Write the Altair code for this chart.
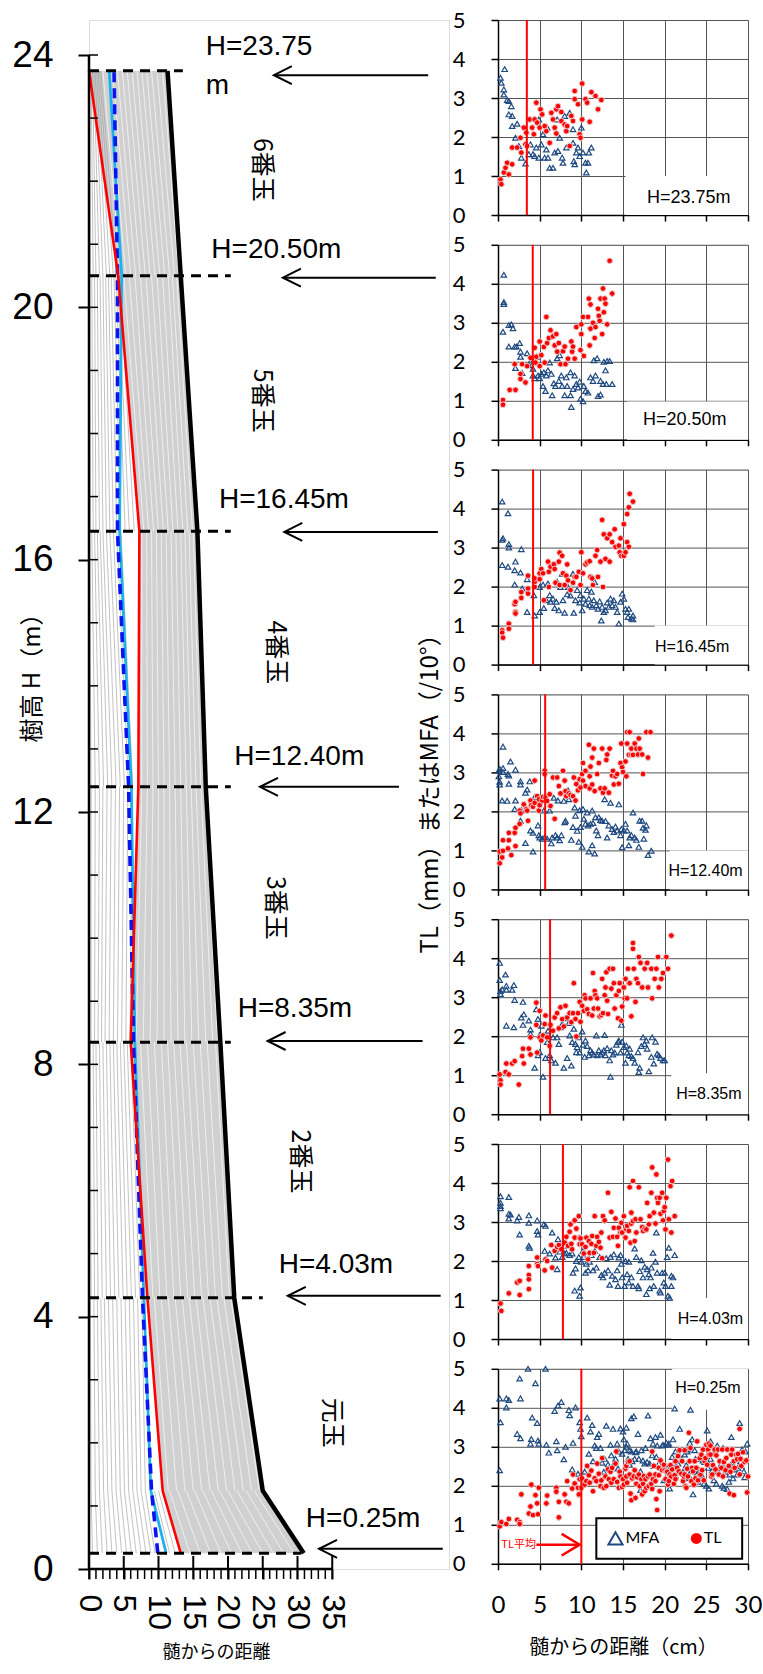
import altair as alt
import pandas as pd

CJK = "Noto Sans CJK JP"
ARIAL = "Liberation Sans"
CAL = "Lato"

# ================= LEFT PANEL : stem analysis =================
DISK_H = [0.25, 1.24, 4.3, 8.35, 12.4, 16.45, 20.5, 23.75]
OUTER_R = [30.9, 25.0, 20.9, 18.9, 16.8, 15.6, 13.2, 11.3]
RED_R = [13.2, 10.6, 8.4, 6.0, 7.1, 7.25, 4.2, 0.0]
CYAN_R = [11.1, 8.9, 7.9, 6.6, 6.1, 4.4, 4.7, 2.9]
BLUE_R = [9.9, 9.0, 7.7, 6.4, 5.7, 4.1, 4.1, 3.6]

RING_BOTTOM = [
    [0.5, 1.2, 1.9, 2.6, 3.3, 4.0, 4.7, 5.4, 6.1, 6.8, 7.5, 8.2, 8.9, 9.5, 11.6, 12.4, 14.5, 16.0, 17.5, 19.0, 20.5, 22.0, 23.5, 25.0, 26.5, 28.0, 29.5],
    [0.3, 0.9, 1.5, 2.1, 2.7, 3.3, 3.9, 4.5, 5.1, 5.7, 6.3, 6.9, 7.5, 8.1, 11.4, 12.6, 13.8, 15.0, 16.2, 17.4, 18.6, 19.8, 21.0, 22.2, 23.4, 24.5],
    [0.3, 0.8, 1.3, 1.9, 2.5, 3.1, 3.7, 4.3, 4.9, 5.5, 6.1, 6.7, 7.3, 9.2, 10.2, 11.2, 12.2, 13.2, 14.2, 15.2, 16.2, 17.2, 18.2, 19.2, 20.2],
    [0.3, 0.8, 1.3, 1.8, 2.3, 2.9, 3.5, 4.1, 4.7, 5.3, 5.9, 6.8, 7.8, 8.8, 9.8, 10.8, 11.8, 12.8, 13.8, 14.8, 15.8, 16.8, 17.8, 18.5],
    [0.3, 0.9, 1.5, 2.1, 2.7, 3.3, 3.9, 4.5, 5.1, 5.7, 6.3, 7.6, 8.4, 9.2, 10.0, 10.8, 11.6, 12.4, 13.2, 14.0, 14.7, 15.4, 16.1],
    [0.2, 0.6, 1.0, 1.5, 2.0, 2.5, 3.0, 3.5, 4.0, 4.6, 5.2, 5.8, 6.5, 7.9, 8.6, 9.3, 10.0, 10.7, 11.4, 12.1, 12.8, 13.5, 14.2, 14.9],
    [0.2, 0.6, 1.0, 1.5, 2.0, 2.5, 3.0, 3.5, 4.0, 4.6, 5.3, 6.0, 6.7, 7.4, 8.1, 8.8, 9.5, 10.2, 10.9, 11.6, 12.3, 12.9],
]
RING_TOP = [
    [0.3, 0.9, 1.5, 2.1, 2.7, 3.3, 3.9, 4.5, 5.1, 5.7, 6.3, 6.9, 7.5, 8.1, 9.4, 10.0, 11.6, 12.8, 14.0, 15.2, 16.4, 17.6, 18.8, 20.0, 21.3, 22.6, 23.8],
    [0.2, 0.7, 1.2, 1.7, 2.2, 2.8, 3.4, 4.0, 4.6, 5.2, 5.8, 6.4, 7.0, 7.6, 9.4, 10.4, 11.4, 12.4, 13.4, 14.4, 15.4, 16.4, 17.4, 18.4, 19.4, 20.4],
    [0.2, 0.6, 1.0, 1.5, 2.0, 2.5, 3.0, 3.5, 4.0, 4.5, 5.0, 5.5, 6.0, 7.4, 8.4, 9.4, 10.4, 11.3, 12.2, 13.1, 14.0, 15.0, 16.0, 17.0, 18.2],
    [0.3, 0.9, 1.5, 2.0, 2.6, 3.2, 3.8, 4.4, 5.0, 5.6, 6.2, 7.6, 8.4, 9.2, 10.0, 10.8, 11.6, 12.4, 13.2, 14.0, 14.7, 15.4, 16.1, 16.6],
    [0.1, 0.4, 0.8, 1.2, 1.6, 2.0, 2.5, 3.0, 3.5, 4.0, 4.6, 7.6, 8.3, 9.0, 9.7, 10.4, 11.1, 11.8, 12.5, 13.2, 13.8, 14.4, 15.0],
    [0.1, 0.4, 0.8, 1.2, 1.6, 2.0, 2.4, 2.8, 3.2, 3.6, 3.9, 4.1, 4.4, 5.0, 5.8, 6.6, 7.4, 8.2, 9.0, 9.8, 10.6, 11.4, 12.0, 12.6],
    [0.1, 0.3, 0.5, 0.7, 0.9, 1.1, 1.3, 1.5, 1.7, 2.0, 2.7, 3.4, 4.1, 4.8, 5.5, 6.2, 6.9, 7.6, 8.3, 9.0, 9.8, 10.6],
]

DASH_H = [23.75, 20.5, 16.45, 12.4, 8.35, 4.3, 0.25]
DASH_END = [13.5, 20.4, 20.4, 20.4, 20.4, 25.0, 30.5]

ARROW_H = [23.68, 20.47, 16.44, 12.40, 8.37, 4.33, 0.32]
ARROW_TIP = [26.6, 27.9, 28.1, 24.6, 25.7, 28.6, 33.1]
ARROW_TAIL = [48.8, 49.9, 50.2, 44.6, 48.0, 50.6, 50.9]

HLABEL_TEXT = ["H=23.75", "m", "H=20.50m", "H=16.45m", "H=12.40m", "H=8.35m", "H=4.03m", "H=0.25m"]
HLABEL_X = [16.8, 16.8, 17.6, 18.7, 20.9, 21.4, 27.3, 31.2]
HLABEL_H = [24.13, 23.51, 20.91, 16.95, 12.87, 8.87, 4.82, 0.80]

SECTION_TEXT = ["6番玉", "5番玉", "4番玉", "3番玉", "2番玉", "元玉"]
SECTION_X = [24.9, 24.9, 26.9, 26.8, 30.4, 35.0]
SECTION_H = [22.18, 18.52, 14.53, 10.48, 6.46, 2.32]

LX_TICKS = [0, 5, 10, 15, 20, 25, 30, 35]
LY_TICKS = [0, 4, 8, 12, 16, 20, 24]
LEFT_YTITLE = "樹高 H（m）"

# ================= RIGHT PANELS : TL and MFA =================
PANEL_LABEL = ["H=23.75m", "H=20.50m", "H=16.45m", "H=12.40m", "H=8.35m", "H=4.03m", "H=0.25m"]
PANEL_LABEL_X = [22.9, 22.4, 23.3, 24.9, 25.3, 25.5, 25.2]
PANEL_LABEL_Y = [0.44, 0.50, 0.45, 0.46, 0.53, 0.51, 4.52]
BOX_X0 = [15.3, 15.5, 18.8, 20.6, 20.8, 20.8, 20.9]
BOX_Y0 = [0.0, 0.0, 0.0, 0.0, 0.0, 0.0, 3.95]
BOX_Y1 = [1.0, 0.98, 1.0, 1.0, 1.05, 1.05, 5.0]
TL_MEAN = [3.46, 4.17, 4.21, 5.66, 6.25, 7.79, 10.0]

P1_TL = [(0.3,0.91),(0.4,0.79),(0.7,1.09),(0.9,1.21),(1.1,1.34),(1.3,1.04),(1.7,1.30),(1.7,1.73),(2.3,1.73),(2.7,1.98),(2.8,1.60),(3.1,2.24),(3.3,1.81),(3.4,2.11),(3.5,1.77),(3.8,2.45),(4.1,2.24),(4.3,2.07),(4.4,2.45),(4.6,2.88),(4.7,2.37),(5.0,2.24),(5.1,2.71),(5.3,2.58),(5.6,2.28),(5.8,2.15),(6.2,1.85),(6.4,2.62),(6.6,2.45),(6.8,2.24),(7.0,2.71),(7.2,2.79),(7.0,2.09),(7.6,2.64),(7.6,2.41),(8.0,2.32),(8.2,2.15),(8.3,2.28),(8.6,1.77),(8.8,2.54),(9.0,2.41),(9.2,3.18),(9.2,2.97),(9.6,2.84),(9.8,2.07),(9.9,1.98),(10.1,3.37),(10.1,2.45),(10.5,2.97),(10.7,2.88),(11.0,2.39),(11.2,3.15),(11.7,3.05),(12.0,2.71),(12.4,2.95)]
P1_MFA = [(0.3,3.52),(0.4,3.39),(0.8,3.74),(0.7,3.22),(0.7,3.09),(1.1,2.95),(1.3,2.92),(1.3,2.58),(1.6,2.79),(1.7,2.54),(1.7,2.28),(2.3,2.34),(2.1,1.98),(2.5,1.77),(2.8,1.47),(3.3,1.32),(3.7,1.56),(3.9,1.81),(4.2,1.56),(4.4,1.51),(4.6,1.73),(4.9,1.47),(5.2,1.81),(5.4,2.07),(5.6,1.47),(5.8,1.68),(6.0,1.47),(6.2,1.21),(6.6,1.21),(6.8,1.60),(7.2,1.64),(7.4,1.98),(7.7,1.47),(7.8,1.34),(8.2,1.73),(8.6,2.62),(9.0,2.20),(9.1,1.38),(9.2,1.30),(9.4,1.60),(9.6,1.73),(9.8,1.51),(10.0,2.24),(10.2,1.60),(10.5,1.34),(10.6,1.09),(10.8,1.34),(10.9,1.60),(11.2,1.73),(9.0,1.85),(8.0,2.54),(7.1,2.45),(5.9,2.24),(4.9,2.45)]

P2_TL = [(0.6,1.02),(0.6,0.90),(1.4,1.28),(2.1,1.28),(2.0,1.94),(2.7,1.56),(2.7,1.69),(2.9,1.94),(3.3,1.47),(3.5,1.89),(3.9,2.10),(4.4,2.36),(4.5,1.98),(4.6,2.13),(5.0,2.52),(5.0,1.89),(5.2,2.17),(5.5,2.38),(5.6,1.98),(5.8,3.15),(5.9,2.48),(6.1,2.61),(6.3,2.81),(6.6,2.65),(6.8,2.42),(7.0,2.71),(7.1,2.26),(7.3,2.48),(7.5,1.94),(7.8,2.27),(8.0,2.39),(8.1,1.94),(8.4,2.08),(8.8,2.52),(8.9,2.26),(9.0,2.39),(9.2,2.08),(9.4,2.89),(9.9,2.30),(10.0,2.71),(10.0,2.96),(10.2,3.15),(10.3,2.15),(10.8,3.15),(10.9,3.62),(11.0,2.42),(11.1,3.47),(11.1,2.85),(11.4,3.00),(11.6,2.61),(11.7,2.89),(12.0,3.36),(12.1,3.18),(12.2,3.05),(12.3,3.62),(12.5,2.71),(12.6,3.88),(12.7,3.27),(12.8,3.62),(12.9,3.49),(13.1,2.96),(13.4,4.59),(13.7,3.75)]
P2_MFA = [(0.7,4.23),(0.7,3.53),(0.7,3.48),(0.6,2.77),(1.3,2.94),(1.6,2.96),(1.8,2.86),(1.3,2.39),(2.0,2.39),(2.1,1.84),(2.2,2.39),(2.6,2.48),(2.7,2.26),(2.7,2.13),(2.9,1.71),(3.5,2.22),(3.7,1.91),(3.9,2.00),(4.2,1.82),(4.2,1.65),(4.4,1.58),(4.6,2.13),(4.8,1.65),(5.0,1.58),(5.2,1.69),(5.4,1.38),(5.5,1.73),(5.7,1.25),(5.8,1.65),(6.0,1.78),(6.2,1.98),(6.4,1.69),(6.5,1.14),(6.7,1.45),(6.9,1.38),(7.1,2.09),(7.3,1.51),(7.4,2.17),(7.6,1.65),(7.7,1.38),(8.0,1.14),(8.2,1.60),(8.3,1.38),(8.7,1.14),(8.7,1.73),(8.8,0.84),(9.0,1.30),(9.2,1.65),(9.4,1.43),(9.6,1.34),(9.8,1.49),(9.9,1.05),(10.2,0.99),(10.3,1.38),(10.5,1.25),(10.8,1.21),(11.1,1.60),(11.4,1.51),(11.5,2.04),(11.7,1.65),(11.9,2.09),(12.0,1.12),(12.3,1.16),(12.3,1.51),(12.6,1.43),(12.7,2.00),(12.9,1.78),(13.0,1.43),(13.1,2.02),(13.4,2.02),(13.7,1.43)]

P3_TL = [(0.5,0.88),(0.5,0.82),(0.6,0.69),(1.3,1.05),(1.3,0.92),(2.0,1.55),(2.1,1.61),(2.1,1.35),(2.1,1.31),(2.8,1.86),(2.8,1.71),(3.6,2.28),(3.6,1.95),(3.6,1.82),(4.4,2.12),(4.4,1.99),(4.4,2.21),(5.0,2.34),(5.0,2.19),(5.2,2.45),(5.4,2.34),(5.5,1.65),(6.0,2.64),(6.1,2.38),(6.1,1.99),(6.3,2.51),(6.7,2.57),(6.8,2.45),(6.9,2.10),(7.3,2.64),(7.4,2.04),(7.4,2.87),(7.7,2.79),(7.8,2.34),(8.0,2.04),(8.2,2.28),(8.3,2.57),(8.4,2.16),(8.7,1.91),(9.0,2.10),(9.2,2.25),(9.4,2.25),(9.7,2.38),(9.9,2.04),(10.0,2.88),(10.2,2.34),(10.5,2.57),(10.7,2.62),(11.0,2.65),(11.1,2.25),(11.3,2.21),(11.4,2.04),(11.7,2.79),(11.9,2.94),(12.0,2.25),(12.3,2.64),(12.5,3.71),(12.6,1.99),(12.7,3.34),(12.9,2.71),(13.1,3.24),(13.4,3.34),(13.4,2.64),(13.7,3.14),(14.0,3.47),(14.1,3.02),(14.5,3.05),(14.6,2.88),(14.7,3.24),(14.8,2.79),(15.1,3.60),(15.1,2.79),(15.3,2.88),(15.5,3.86),(15.5,3.14),(15.7,4.03),(15.7,3.02),(15.8,4.38),(16.2,4.18)]
P3_MFA = [(0.5,4.18),(0.5,3.20),(0.6,3.24),(0.5,2.55),(1.2,3.88),(1.3,3.09),(1.3,3.00),(1.2,2.51),(2.0,2.42),(2.0,2.05),(2.1,2.64),(2.8,2.96),(2.7,2.36),(2.9,1.95),(3.5,2.19),(3.5,1.35),(4.3,1.78),(4.4,1.26),(5.0,1.99),(5.0,1.35),(5.4,2.05),(5.5,1.45),(5.8,1.65),(6.0,2.08),(6.2,1.78),(6.3,1.61),(6.6,1.69),(6.8,1.45),(7.0,1.61),(7.1,2.12),(7.3,1.39),(7.5,1.99),(7.7,2.33),(7.8,1.65),(8.0,1.33),(8.3,1.80),(8.4,1.99),(8.7,1.77),(9.0,2.33),(9.1,1.33),(9.3,1.65),(9.5,1.91),(9.8,1.59),(9.9,1.78),(10.1,1.39),(10.3,1.69),(10.5,1.56),(10.7,1.91),(10.9,1.69),(11.0,1.52),(11.2,1.87),(11.3,1.48),(11.5,1.65),(11.6,2.12),(11.8,1.52),(12.0,1.43),(12.2,1.62),(12.4,1.13),(12.5,1.48),(12.7,1.35),(12.9,1.39),(13.1,1.59),(13.3,1.48),(13.5,1.69),(13.7,1.52),(13.9,1.65),(14.1,1.48),(14.3,1.35),(14.5,1.05),(14.7,1.61),(14.9,1.82),(15.1,1.69),(15.3,1.43),(15.5,1.35),(15.6,1.22),(15.7,1.43),(16.0,1.18),(16.2,1.26),(16.2,1.16)]

P4_TL = [(0.2,0.67),(0.2,0.97),(0.5,0.82),(0.6,0.99),(0.6,1.26),(1.2,1.05),(1.3,1.26),(1.3,1.45),(1.6,0.88),(2.0,1.45),(2.1,1.58),(2.1,1.11),(2.6,1.68),(2.6,2.02),(2.7,1.95),(3.1,2.18),(3.4,2.06),(3.5,2.02),(3.6,1.76),(3.9,2.28),(4.0,2.16),(4.2,2.12),(4.4,2.79),(4.4,2.22),(4.7,2.39),(4.9,2.31),(4.9,2.02),(5.0,2.16),(5.3,2.28),(5.4,2.37),(5.6,3.04),(5.6,2.96),(5.7,2.35),(5.9,2.27),(6.2,2.44),(6.3,2.14),(6.6,2.87),(6.8,1.81),(7.1,2.87),(7.3,2.65),(7.5,2.46),(7.8,3.04),(8.0,2.79),(8.1,2.52),(8.2,2.39),(8.5,2.46),(8.7,2.42),(9.0,2.39),(9.1,2.87),(9.3,2.28),(9.4,2.70),(9.6,2.54),(9.8,2.82),(9.9,2.61),(10.1,2.96),(10.2,3.24),(10.2,2.79),(10.5,3.04),(10.5,2.65),(10.9,3.71),(11.0,2.90),(11.0,2.59),(11.1,3.15),(11.3,3.38),(11.3,2.69),(11.5,3.61),(11.6,2.52),(11.9,2.96),(12.1,3.24),(12.3,2.59),(12.5,3.61),(12.6,2.48),(12.8,2.59),(13.0,3.32),(13.1,3.46),(13.3,2.48),(13.4,3.61),(13.7,2.92),(13.8,3.04),(13.9,2.69),(14.1,2.90),(14.3,2.96),(14.5,2.71),(14.7,3.24),(14.8,3.74),(14.9,3.13),(15.0,3.01),(15.3,3.28),(15.4,2.90),(15.5,4.03),(15.5,3.74),(15.7,3.45),(15.8,4.03),(16.0,3.45),(16.0,3.61),(16.2,3.45),(16.4,3.74),(16.6,3.61),(16.8,3.46),(16.9,3.87),(17.0,3.61),(17.3,3.46),(17.4,2.96),(17.8,4.03),(18.0,3.38),(18.3,4.03)]
P4_MFA = [(0.1,2.90),(0.1,3.04),(0.2,3.09),(0.2,2.76),(0.2,2.69),(0.6,3.66),(0.6,3.11),(0.6,3.01),(0.5,2.28),(1.1,2.27),(1.2,2.96),(1.3,2.92),(1.3,2.71),(1.5,3.28),(2.0,2.06),(2.1,3.07),(2.1,2.28),(2.7,2.77),(2.7,2.69),(2.8,2.03),(2.7,1.76),(3.3,2.48),(3.3,1.19),(3.5,2.56),(3.8,2.77),(3.9,1.51),(4.2,1.45),(4.2,0.97),(4.4,2.37),(4.8,1.64),(4.9,1.39),(5.0,2.27),(5.0,1.33),(5.3,1.30),(5.5,2.02),(5.6,1.34),(5.9,1.30),(6.2,2.02),(6.4,1.18),(6.5,1.33),(6.7,2.35),(6.9,1.39),(7.1,1.33),(7.2,2.28),(7.4,1.26),(7.6,1.39),(7.9,2.27),(8.0,1.72),(8.1,1.76),(8.4,2.54),(8.5,2.31),(8.8,1.27),(9.0,1.60),(9.2,2.10),(9.3,1.89),(9.5,1.50),(9.7,1.22),(9.8,2.03),(9.9,1.60),(10.1,1.09),(10.2,2.06),(10.3,1.81),(10.5,1.68),(10.7,1.97),(10.8,1.64),(10.9,0.97),(11.1,1.68),(11.3,2.02),(11.3,1.13),(11.4,1.70),(11.6,0.92),(11.7,1.85),(11.8,1.51),(12.0,1.39),(12.1,1.85),(12.3,1.78),(12.5,1.76),(12.8,2.31),(12.9,1.75),(13.1,1.33),(13.3,1.64),(13.5,2.22),(13.7,1.55),(13.9,1.47),(14.1,1.61),(14.3,1.51),(14.5,2.18),(14.7,1.39),(14.8,1.55),(14.9,1.08),(15.1,1.51),(15.3,1.68),(15.5,1.51),(15.7,1.13),(15.8,1.33),(16.0,1.39),(16.2,1.97),(16.4,1.33),(16.6,1.27),(16.9,1.09),(17.0,1.76),(17.3,1.76),(17.4,1.58),(17.5,1.30),(17.7,1.53),(17.8,1.64),(18.0,0.88),(18.4,0.99)]

P5_TL = [(0.2,1.02),(0.3,0.87),(0.3,0.76),(0.9,1.08),(1.0,1.30),(1.3,1.02),(1.7,1.30),(2.0,1.36),(2.5,0.76),(2.9,1.49),(3.0,1.68),(3.1,1.30),(3.7,1.68),(3.9,1.53),(3.9,1.97),(4.6,2.29),(4.6,2.86),(4.7,1.58),(5.0,1.97),(5.0,2.65),(5.2,1.89),(5.4,2.02),(5.6,2.31),(5.7,2.53),(5.9,1.97),(6.2,1.75),(6.3,2.29),(6.6,2.14),(6.8,2.48),(7.1,2.59),(7.3,2.20),(7.5,2.74),(7.7,2.44),(7.9,2.25),(8.1,2.78),(8.3,2.48),(8.6,2.59),(8.8,2.36),(9.0,2.59),(9.1,3.36),(9.3,2.44),(9.4,1.99),(9.6,2.59),(9.8,2.88),(9.9,2.37),(10.1,2.78),(10.3,2.65),(10.4,3.05),(10.5,2.97),(10.7,2.69),(10.9,2.57),(11.1,2.97),(11.3,2.53),(11.4,3.62),(11.5,2.71),(11.6,3.16),(11.7,3.05),(11.9,2.97),(12.0,2.71),(12.2,2.51),(12.4,2.54),(12.5,3.47),(12.6,2.59),(12.8,3.05),(12.9,3.25),(13.0,3.64),(13.1,2.91),(13.2,2.57),(13.4,3.73),(13.6,3.22),(13.8,3.73),(13.9,3.36),(14.0,2.71),(14.2,3.05),(14.4,2.46),(14.5,3.16),(14.6,3.36),(14.8,2.40),(14.9,2.76),(15.1,3.25),(15.2,2.97),(15.3,3.47),(15.5,2.97),(15.6,3.73),(15.7,3.36),(15.8,3.36),(16.0,2.51),(16.2,4.24),(16.2,4.39),(16.3,3.73),(16.5,2.88),(16.6,3.47),(16.8,3.36),(16.9,4.03),(17.1,3.88),(17.3,3.25),(17.6,3.73),(17.9,3.88),(18.0,3.25),(18.4,3.73),(18.5,2.97),(18.8,3.47),(19.0,3.73),(19.2,4.03),(19.3,3.25),(19.6,3.47),(19.8,3.62),(20.2,4.03),(20.4,3.73),(20.8,4.58)]
P5_MFA = [(0.2,3.88),(0.2,3.44),(0.3,3.16),(0.3,3.08),(0.5,3.20),(0.9,3.58),(1.0,3.29),(1.0,3.19),(1.7,3.19),(1.9,3.31),(2.0,2.93),(1.0,2.27),(1.9,2.23),(2.8,2.48),(3.0,2.29),(3.0,2.88),(3.1,2.56),(3.7,2.40),(3.9,2.06),(3.9,2.17),(4.4,1.19),(4.6,2.69),(4.8,2.44),(4.8,1.51),(5.0,2.03),(5.0,1.59),(5.2,2.27),(5.4,0.96),(5.7,1.44),(5.9,1.85),(6.0,2.14),(6.2,1.51),(6.4,1.38),(6.6,1.97),(6.9,1.32),(7.1,1.97),(7.3,1.80),(7.5,2.23),(7.7,2.31),(7.9,1.19),(8.1,2.46),(8.3,1.44),(8.5,2.34),(8.6,2.02),(8.8,1.25),(8.9,1.85),(9.1,2.19),(9.3,1.80),(9.4,1.59),(9.5,1.72),(9.7,1.97),(9.8,1.58),(10.1,2.12),(10.2,1.78),(10.4,1.47),(10.5,1.89),(10.7,1.75),(10.9,1.51),(11.1,1.64),(11.3,1.58),(11.5,1.53),(11.8,2.02),(11.9,1.51),(12.1,1.64),(12.3,1.53),(12.5,1.58),(12.7,1.64),(12.8,2.03),(12.9,1.51),(13.1,1.69),(13.4,1.38),(13.5,0.96),(13.6,1.64),(13.8,1.53),(14.0,1.58),(14.2,1.78),(14.4,1.85),(14.5,1.89),(14.7,1.58),(14.8,2.29),(14.9,1.86),(15.1,1.72),(15.3,1.32),(15.4,1.76),(15.5,1.58),(15.7,1.51),(15.8,1.68),(16.0,1.49),(16.2,1.44),(16.4,1.32),(16.8,1.59),(16.9,1.08),(17.0,1.19),(17.2,1.75),(17.4,1.97),(17.6,1.80),(17.8,1.89),(17.9,1.68),(18.1,1.10),(18.4,1.47),(18.5,1.97),(18.7,1.30),(18.9,1.86),(19.1,1.55),(19.3,1.51),(19.5,1.44),(19.8,1.38),(20.0,1.38)]

P6_TL = [(0.3,0.91),(0.4,0.72),(1.3,1.17),(2.3,1.45),(2.6,1.49),(2.6,1.13),(3.7,1.87),(3.7,1.64),(3.7,1.53),(3.7,1.28),(4.7,2.09),(4.7,1.92),(4.8,1.87),(5.6,1.76),(5.7,2.04),(5.9,2.00),(6.4,2.41),(6.5,1.83),(6.8,2.26),(7.1,2.36),(7.3,2.41),(7.6,2.30),(8.0,2.47),(8.2,2.62),(8.4,2.39),(8.6,2.75),(8.7,2.94),(8.8,2.44),(8.9,2.30),(9.2,3.04),(9.2,2.60),(9.4,2.83),(9.7,3.15),(9.8,2.60),(9.8,2.43),(9.9,2.58),(10.1,2.43),(10.3,2.19),(10.5,2.36),(10.6,2.60),(10.8,2.04),(10.9,2.51),(11.0,2.21),(11.2,2.44),(11.3,2.64),(11.5,2.21),(11.6,3.15),(11.8,2.39),(11.9,2.62),(12.1,2.49),(12.3,2.34),(12.4,2.73),(12.5,2.07),(12.6,3.15),(12.8,3.04),(13.2,3.75),(13.4,2.60),(13.6,3.26),(13.8,2.62),(13.9,2.85),(14.1,3.09),(14.3,2.62),(14.4,2.39),(14.5,2.85),(14.7,2.73),(14.8,2.98),(14.9,2.73),(15.1,3.15),(15.3,2.60),(15.4,2.81),(15.5,2.90),(15.7,2.77),(15.8,3.89),(15.9,2.47),(16.0,2.96),(16.0,3.24),(16.2,3.02),(16.2,4.05),(16.4,2.51),(16.5,3.07),(16.6,2.73),(16.9,3.89),(17.1,3.07),(17.3,2.87),(17.4,2.77),(17.6,2.83),(17.8,2.81),(17.9,3.49),(18.1,2.94),(18.2,3.15),(18.4,3.75),(18.5,4.40),(18.7,3.24),(18.9,2.96),(19.0,4.22),(19.1,3.62),(19.2,3.49),(19.4,3.62),(19.5,3.21),(19.7,3.75),(19.8,3.04),(19.9,3.28),(20.0,3.38),(20.1,2.81),(20.2,3.62),(20.4,4.60),(20.5,3.07),(20.7,3.92),(20.8,2.73),(20.9,4.05),(21.2,3.15)]
P6_MFA = [(0.3,3.66),(0.3,3.49),(0.3,3.41),(0.3,3.35),(1.3,3.64),(1.3,3.21),(1.3,3.09),(1.5,3.19),(2.3,3.04),(2.5,3.13),(2.6,2.68),(3.7,3.17),(3.7,2.98),(3.7,2.39),(3.8,2.34),(4.7,3.04),(4.7,2.77),(4.8,2.68),(5.5,2.94),(5.7,2.90),(5.6,2.26),(6.2,2.19),(6.5,2.73),(6.9,2.09),(7.1,1.79),(7.2,2.56),(7.4,2.24),(7.7,2.10),(8.0,2.19),(8.2,2.21),(8.4,2.39),(8.6,2.15),(8.9,2.19),(9.0,1.70),(9.2,1.24),(9.3,1.81),(9.4,2.00),(9.7,2.10),(9.8,1.11),(9.9,1.32),(10.0,1.98),(10.2,2.26),(10.3,2.10),(10.5,1.70),(10.6,1.93),(10.8,1.76),(11.0,1.98),(11.2,2.15),(11.4,1.76),(11.6,2.26),(11.8,1.83),(12.0,2.43),(12.2,2.10),(12.4,1.64),(12.6,1.58),(12.8,1.70),(13.0,2.07),(13.2,1.76),(13.4,1.39),(13.5,2.10),(13.7,1.62),(13.9,2.17),(14.1,1.53),(14.3,1.76),(14.4,1.36),(14.5,2.09),(14.7,2.15),(14.8,1.93),(14.9,1.58),(15.2,1.36),(15.3,2.00),(15.5,1.66),(15.7,1.98),(15.7,1.45),(16.0,1.58),(16.2,1.36),(16.4,2.32),(16.6,2.10),(16.8,1.36),(16.9,1.30),(17.0,1.74),(17.2,2.02),(17.4,1.58),(17.6,1.85),(17.8,1.15),(17.9,1.79),(18.1,1.66),(18.2,1.30),(18.3,1.58),(18.4,1.83),(18.6,2.21),(18.7,1.36),(18.9,1.98),(19.0,2.73),(19.1,1.70),(19.4,1.24),(19.5,1.19),(19.7,1.70),(19.9,1.45),(20.0,1.70),(20.1,1.36),(20.3,2.10),(20.4,1.11),(20.5,2.34),(20.6,1.06),(20.8,1.62),(20.8,1.36),(21.0,1.58),(21.2,2.15)]

P7_TL = [(0.2,0.96),(0.4,1.07),(1.0,1.02),(1.3,1.15),(2.3,1.13),(2.6,1.07),(2.6,1.02),(2.8,1.78),(3.7,1.29),(3.9,1.47),(4.0,2.03),(4.2,1.25),(4.5,1.76),(4.7,1.55),(4.8,1.27),(4.9,1.95),(5.8,1.55),(5.9,1.75),(7.0,1.95),(7.0,1.85),(7.3,1.19),(7.3,1.59),(8.0,1.78),(8.2,1.59),(8.3,2.12),(8.5,1.55),(8.9,1.93),(9.0,2.29),(9.2,2.06),(9.6,1.95),(9.7,1.78),(9.8,2.17),(10.0,1.95),(10.1,2.19),(10.4,2.03),(10.6,2.12),(10.7,2.51),(10.9,2.27),(11.0,2.08),(11.2,2.39),(11.4,1.86),(11.6,2.19),(11.8,2.12),(11.9,2.57),(12.1,2.31),(12.3,1.99),(12.4,2.14),(12.5,2.71),(12.7,1.95),(12.9,2.24),(13.0,1.99),(13.2,2.42),(13.3,2.17),(13.5,2.36),(13.6,2.08),(13.7,2.46),(13.9,2.17),(14.1,2.57),(14.2,2.88),(14.3,2.10),(14.5,1.95),(14.6,2.36),(14.7,2.24),(14.9,1.97),(15.0,2.17),(15.1,2.03),(15.3,2.44),(15.4,2.24),(15.4,2.51),(15.5,2.08),(15.6,2.61),(15.8,2.29),(15.8,2.63),(15.9,1.80),(16.0,1.63),(16.1,2.19),(16.3,2.24),(16.4,2.40),(16.5,1.69),(16.6,2.05),(16.7,2.22),(16.9,2.29),(17.0,1.99),(17.2,2.17),(17.3,1.78),(17.4,2.05),(17.5,2.25),(17.6,1.86),(17.7,2.17),(17.8,1.95),(18.0,2.24),(18.1,1.99),(18.2,2.29),(18.4,2.05),(18.5,1.92),(18.5,2.88),(18.6,2.17),(18.7,2.51),(18.9,2.29),(18.9,2.12),(19.0,1.66),(19.1,1.38),(19.3,2.27),(19.3,2.46),(19.4,1.86),(19.5,2.65),(19.7,2.40),(19.9,2.54),(20.0,2.40),(20.1,2.17),(20.2,2.37),(20.3,2.36),(20.4,2.03),(20.5,2.12),(20.6,2.29),(20.7,2.53),(20.8,2.24),(20.9,2.42),(21.1,2.05),(21.2,2.27),(21.3,2.17),(21.3,2.63),(21.5,2.46),(21.6,2.76),(21.7,2.37),(21.8,2.91),(22.0,2.31),(22.1,2.63),(22.2,2.12),(22.3,2.24),(22.4,2.91),(22.4,2.29),(22.5,1.99),(22.6,1.95),(22.7,2.44),(22.8,2.24),(22.9,3.36),(23.0,2.63),(23.1,2.97),(23.2,2.12),(23.3,2.46),(23.4,2.37),(23.5,2.03),(23.6,2.63),(23.7,2.19),(23.8,2.46),(23.9,3.14),(24.0,2.14),(24.2,2.71),(24.3,2.29),(24.4,2.80),(24.5,2.40),(24.6,2.93),(24.7,2.14),(24.8,2.63),(24.9,2.71),(25.0,3.05),(25.1,2.54),(25.2,2.93),(25.3,2.80),(25.3,3.08),(25.5,3.03),(25.5,2.80),(25.6,2.24),(25.7,2.29),(25.8,2.53),(26.0,2.93),(26.1,2.42),(26.2,2.78),(26.4,2.93),(26.5,2.29),(26.6,2.63),(26.8,2.46),(26.9,2.93),(27.0,2.24),(27.1,2.61),(27.3,2.40),(27.4,2.71),(27.5,2.93),(27.7,2.51),(27.8,1.80),(27.9,2.36),(28.0,2.80),(28.1,2.93),(28.3,2.63),(28.3,1.76),(28.4,2.46),(28.6,2.80),(28.7,2.68),(28.8,2.82),(29.0,2.29),(29.0,3.46),(29.1,2.69),(29.2,2.51),(29.4,2.86),(29.6,2.61),(29.8,2.65),(29.9,1.83),(30.0,2.24)]
P7_MFA = [(0.2,2.40),(0.3,3.63),(0.2,4.24),(1.0,4.24),(1.0,4.01),(1.3,4.20),(2.3,3.33),(2.6,4.75),(2.7,3.22),(2.7,4.24),(3.6,5.00),(3.9,3.08),(4.0,3.20),(4.1,3.75),(4.5,4.63),(4.7,3.61),(4.8,3.16),(4.9,3.08),(5.7,5.00),(5.8,3.05),(6.1,2.85),(6.8,3.92),(7.0,3.14),(7.1,2.91),(7.2,4.06),(7.6,4.15),(7.9,2.68),(8.1,3.00),(8.5,3.94),(8.6,3.81),(8.9,2.42),(9.0,3.10),(9.3,4.01),(9.6,2.31),(9.8,3.63),(9.9,3.46),(10.0,3.27),(10.4,2.36),(10.7,3.75),(10.9,2.82),(11.1,3.39),(11.3,3.56),(11.4,2.63),(11.6,3.03),(11.8,2.97),(11.9,3.25),(12.1,3.33),(12.3,2.97),(12.5,2.59),(12.7,2.36),(12.8,2.69),(13.0,3.54),(13.2,2.55),(13.3,2.44),(13.5,3.05),(13.6,2.78),(13.8,3.46),(14.0,2.59),(14.1,2.69),(14.3,3.08),(14.4,2.44),(14.5,2.88),(14.7,3.47),(14.9,2.82),(15.0,3.39),(15.1,3.19),(15.2,2.91),(15.4,3.00),(15.4,3.49),(15.5,3.08),(15.6,2.69),(15.8,2.91),(15.8,2.54),(16.0,3.73),(16.0,2.88),(16.1,2.63),(16.3,3.78),(16.4,2.69),(16.5,2.86),(16.6,2.88),(16.8,3.33),(16.9,2.69),(17.1,1.89),(17.1,2.37),(17.2,2.91),(17.4,2.65),(17.6,2.57),(17.7,2.97),(17.9,2.61),(18.0,3.80),(18.2,2.57),(18.3,3.22),(18.5,2.78),(18.6,3.08),(18.7,2.51),(18.9,3.25),(19.0,2.74),(19.1,3.03),(19.3,2.57),(19.5,3.31),(19.7,3.03),(19.8,3.05),(19.9,2.14),(20.0,2.44),(20.2,3.10),(20.3,2.46),(20.4,3.05),(20.5,3.08),(20.6,1.93),(20.7,2.46),(20.9,2.74),(21.0,3.19),(21.1,2.57),(21.2,3.98),(21.3,2.26),(21.3,2.88),(21.5,2.46),(21.6,2.57),(21.7,2.80),(21.8,3.46),(22.0,2.65),(22.2,2.36),(22.4,2.80),(22.4,2.19),(22.6,2.53),(22.7,2.88),(22.8,2.93),(23.0,2.22),(23.0,3.10),(23.1,3.95),(23.2,2.39),(23.3,3.19),(23.4,1.78),(23.5,2.37),(23.6,2.91),(23.7,2.69),(23.8,2.29),(24.0,2.10),(24.2,2.39),(24.3,2.69),(24.4,2.29),(24.5,2.19),(24.6,2.65),(24.7,2.05),(24.8,2.61),(25.0,2.00),(25.1,3.42),(25.1,2.63),(25.2,2.46),(25.3,1.93),(25.5,2.69),(25.5,3.14),(25.7,2.39),(25.9,2.14),(26.1,2.88),(26.2,2.05),(26.3,3.03),(26.4,2.37),(26.6,2.46),(26.8,2.57),(26.9,2.00),(27.0,2.97),(27.1,1.95),(27.3,2.36),(27.4,2.44),(27.5,1.92),(27.7,2.10),(27.8,2.29),(27.9,2.53),(28.0,3.25),(28.1,2.46),(28.2,2.19),(28.3,2.51),(28.4,2.42),(28.6,2.69),(28.7,2.29),(28.8,2.46),(29.0,2.74),(29.0,3.61),(29.1,2.63),(29.2,2.51),(29.3,2.93),(29.5,2.37),(29.6,2.22),(29.7,2.88),(29.9,3.08)]

PANEL_TL = [P1_TL, P2_TL, P3_TL, P4_TL, P5_TL, P6_TL, P7_TL]
PANEL_MFA = [P1_MFA, P2_MFA, P3_MFA, P4_MFA, P5_MFA, P6_MFA, P7_MFA]

LEGEND_BOX = (11.8, 29.3, 0.13, 1.17)
LEGEND_ITEMS = ["MFA", "TL"]
LEGEND_SYM_X = [14.1, 23.8]
LEGEND_TXT_X = [15.3, 24.7]
LEGEND_Y = 0.65
TL_AVG_TEXT = "TL平均"
TL_AVG_ARROW = (4.6, 9.8, 0.49)
RIGHT_YTITLE = "TL（mm）またはMFA（/10°）"

# ================= geometry =================
W_L, H_L = 360, 1549
X_MAX_L, Y_MAX_L = 51.8, 24.555
W_R, H_R = 250, 195
SP_R = 29.8

# ---------------- left chart ----------------
XL = alt.Scale(domain=[0, X_MAX_L], nice=False, zero=False)
YL = alt.Scale(domain=[0, Y_MAX_L], nice=False, zero=False)
XAX_L = alt.Axis(values=LX_TICKS, grid=False, domain=False, ticks=True, tickSize=10, tickWidth=2,
                 tickColor="black", labelAngle=90, labelFont=ARIAL, labelFontSize=32, labelColor="black",
                 labelPadding=15, labelFlush=False, labelOverlap=False,
                 title="髄からの距離", titleFont=CJK, titleFontSize=18, titleFontWeight="normal",
                 titleColor="black", titleX=127, titleY=74)
YAX_L = alt.Axis(values=LY_TICKS, grid=False, domain=False, ticks=True, tickSize=11, tickWidth=2,
                 tickColor="black", labelFont=ARIAL, labelFontSize=37, labelColor="black",
                 labelPadding=25, labelFlush=False, labelOverlap=False)


def lx(f):
    return alt.X(f + ":Q", scale=XL, axis=XAX_L)


def ly(f):
    return alt.Y(f + ":Q", scale=YL, axis=YAX_L, title=None)


area_df = pd.DataFrame({"h": DISK_H, "xl": RED_R, "xr": OUTER_R})
ring_rows = []
for i in range(len(DISK_H) - 1):
    for rb, rt in zip(RING_BOTTOM[i], RING_TOP[i]):
        zone = "outer" if rb >= RED_R[i] else "inner"
        ring_rows.append({"x": rb, "h": DISK_H[i], "x2": rt, "h2": DISK_H[i + 1], "zone": zone})
ring_df = pd.DataFrame(ring_rows)
ring_in = ring_df[ring_df.zone == "inner"]
ring_out = ring_df[ring_df.zone == "outer"]


def line_df(vals):
    return pd.DataFrame({"x": vals, "h": DISK_H})


dash_df = pd.DataFrame({"x": [0.0] * len(DASH_H), "x2": DASH_END, "h": DASH_H})
arrow_df = pd.DataFrame({"x": ARROW_TIP, "x2": ARROW_TAIL, "h": ARROW_H})
hl_df = pd.DataFrame({"x": HLABEL_X, "h": HLABEL_H, "t": HLABEL_TEXT})
sec_df = pd.DataFrame({"x": SECTION_X, "h": SECTION_H, "t": SECTION_TEXT})
yminor_df = pd.DataFrame({"h": list(range(0, 25))})
xminor_df = pd.DataFrame({"x": list(range(0, 36))})
xmajor_df = pd.DataFrame({"x": LX_TICKS})
yaxis_df = pd.DataFrame({"x": [0.0], "h": [0.0], "h2": [24.0]})
xaxis_df = pd.DataFrame({"x": [0.0], "x2": [35.0], "h": [0.0]})
ytitle_df = pd.DataFrame({"t": [LEFT_YTITLE]})

left_layers = [
    alt.Chart(area_df).mark_area(orient="horizontal", color="#d0d0d0", opacity=1).encode(
        x=lx("xl"), x2="xr", y=ly("h")),
    alt.Chart(ring_out).mark_rule(color="#f6f6f6", strokeWidth=0.8).encode(
        x=lx("x"), x2="x2", y=ly("h"), y2="h2"),
    alt.Chart(ring_in).mark_rule(color="#9a9a9a", strokeWidth=0.6).encode(
        x=lx("x"), x2="x2", y=ly("h"), y2="h2"),
    alt.Chart(line_df(CYAN_R)).mark_line(color="#1cb0ec", strokeWidth=2.8).encode(
        x=lx("x"), y=ly("h"), order=alt.Order("h:Q")),
    alt.Chart(line_df(BLUE_R)).mark_line(color="#0a14f0", strokeWidth=3.6, strokeDash=[10, 6]).encode(
        x=lx("x"), y=ly("h"), order=alt.Order("h:Q")),
    alt.Chart(line_df(RED_R)).mark_line(color="#ff0000", strokeWidth=2.6).encode(
        x=lx("x"), y=ly("h"), order=alt.Order("h:Q")),
    alt.Chart(line_df(OUTER_R)).mark_line(color="black", strokeWidth=4.5).encode(
        x=lx("x"), y=ly("h"), order=alt.Order("h:Q")),
    alt.Chart(dash_df).mark_rule(color="black", strokeWidth=3, strokeDash=[10, 7]).encode(
        x=lx("x"), x2="x2", y=ly("h")),
    alt.Chart(yaxis_df).mark_rule(color="black", strokeWidth=2.5).encode(
        x=lx("x"), y=ly("h"), y2="h2"),
    alt.Chart(xaxis_df).mark_rule(color="black", strokeWidth=2.5).encode(
        x=lx("x"), x2="x2", y=ly("h")),
    alt.Chart(yminor_df).mark_rule(color="black", strokeWidth=1.5).encode(
        y=ly("h"), x=alt.value(0), x2=alt.value(9)),
    alt.Chart(xminor_df).mark_rule(color="black", strokeWidth=1.5).encode(
        x=lx("x"), y=alt.value(H_L), y2=alt.value(H_L + 10)),
    alt.Chart(xmajor_df).mark_rule(color="black", strokeWidth=2).encode(
        x=lx("x"), y=alt.value(H_L - 13), y2=alt.value(H_L)),
    alt.Chart(arrow_df).mark_rule(color="black", strokeWidth=2).encode(
        x=lx("x"), x2="x2", y=ly("h")),
    alt.Chart(arrow_df).mark_point(shape="M1,-1L-1,0L1,1", filled=False, color="black",
                                   strokeWidth=2, size=324, opacity=1, xOffset=9).encode(
        x=lx("x"), y=ly("h")),
    alt.Chart(hl_df).mark_text(font=ARIAL, fontSize=28, align="left", baseline="middle",
                               color="black").encode(x=lx("x"), y=ly("h"), text="t:N"),
    alt.Chart(sec_df).mark_text(font=CJK, fontSize=25, angle=90, align="center", baseline="middle",
                                color="black").encode(x=lx("x"), y=ly("h"), text="t:N"),
    alt.Chart(ytitle_df).mark_text(font=CJK, fontSize=24, angle=270, align="center", baseline="middle",
                                   color="black").encode(x=alt.value(-56), y=alt.value(652), text="t:N"),
]
left = alt.layer(*left_layers).properties(width=W_L, height=H_L)

# ---------------- right panels ----------------
XR = alt.Scale(domain=[0, 30], nice=False, zero=False)
YR = alt.Scale(domain=[0, 5], nice=False, zero=False)
GRID = "#555555"


def make_panel(i):
    last = i == 6
    xkw = dict(values=[0, 5, 10, 15, 20, 25, 30], grid=True, gridColor=GRID, gridWidth=1,
               domainColor="black", domainWidth=1.5, tickColor="black", tickWidth=1.5, tickSize=6,
               labels=last, labelFlush=False, labelOverlap=False)
    if last:
        xkw.update(labelFont=CAL, labelFontSize=24, labelColor="black", labelPadding=24,
                   title="髄からの距離（cm）", titleFont=CJK, titleFontSize=20,
                   titleFontWeight="normal", titleColor="black", titleY=74)
    ykw = dict(values=[0, 1, 2, 3, 4, 5], grid=True, gridColor=GRID, gridWidth=1,
               domainColor="black", domainWidth=1.5, tickColor="black", tickWidth=1.5, tickSize=7,
               labelFont=CAL, labelFontSize=22, labelColor="black", labelPadding=26,
               labelFlush=False, labelOverlap=False)
    if i == 3:
        ykw.update(title=RIGHT_YTITLE, titleFont=CJK, titleFontSize=24,
                   titleFontWeight="normal", titleColor="black", titleAngle=270, titleX=-68,
                   titleY=93, titleBaseline="middle", titleAlign="center")
    XAX = alt.Axis(**xkw)
    YAX = alt.Axis(**ykw)

    def px(f):
        if last:
            return alt.X(f + ":Q", scale=XR, axis=XAX)
        return alt.X(f + ":Q", scale=XR, axis=XAX, title=None)

    def py(f):
        if i == 3:
            return alt.Y(f + ":Q", scale=YR, axis=YAX)
        return alt.Y(f + ":Q", scale=YR, axis=YAX, title=None)

    tl = pd.DataFrame(PANEL_TL[i], columns=["x", "v"])
    mfa = pd.DataFrame(PANEL_MFA[i], columns=["x", "v"])
    box = pd.DataFrame({"x": [BOX_X0[i]], "x2": [30.0], "v": [BOX_Y0[i]], "v2": [BOX_Y1[i]]})
    mean = pd.DataFrame({"x": [TL_MEAN[i]], "v": [0.0], "v2": [5.0]})
    lab = pd.DataFrame({"x": [PANEL_LABEL_X[i]], "v": [PANEL_LABEL_Y[i]], "t": [PANEL_LABEL[i]]})
    lab_size = 18 if i < 2 else 16

    layers = [
        alt.Chart(box).mark_rect(color="white").encode(x=px("x"), x2="x2", y=py("v"), y2="v2"),
        alt.Chart(mfa).mark_point(shape="triangle-up", filled=False, color="#1f4a80",
                                  strokeWidth=1.2, size=30, opacity=1).encode(x=px("x"), y=py("v")),
        alt.Chart(tl).mark_point(shape="circle", filled=True, fill="#ff0000", stroke="#e8cccc",
                                 strokeWidth=1, size=32, opacity=1).encode(x=px("x"), y=py("v")),
        alt.Chart(mean).mark_rule(color="#ff0000", strokeWidth=2).encode(x=px("x"), y=py("v"), y2="v2"),
        alt.Chart(lab).mark_text(font=ARIAL, fontSize=lab_size, align="center", baseline="middle",
                                 color="black").encode(x=px("x"), y=py("v"), text="t:N"),
    ]
    if last:
        lb = pd.DataFrame({"x": [LEGEND_BOX[0]], "x2": [LEGEND_BOX[1]],
                           "v": [LEGEND_BOX[2]], "v2": [LEGEND_BOX[3]]})
        sym_m = pd.DataFrame({"x": [LEGEND_SYM_X[0]], "v": [LEGEND_Y]})
        sym_t = pd.DataFrame({"x": [LEGEND_SYM_X[1]], "v": [LEGEND_Y]})
        ltxt = pd.DataFrame({"x": LEGEND_TXT_X, "v": [LEGEND_Y, LEGEND_Y], "t": LEGEND_ITEMS})
        avg_t = pd.DataFrame({"x": [0.4], "v": [TL_AVG_ARROW[2]], "t": [TL_AVG_TEXT]})
        avg_a = pd.DataFrame({"x": [TL_AVG_ARROW[0]], "x2": [TL_AVG_ARROW[1]], "v": [TL_AVG_ARROW[2]]})
        avg_h = pd.DataFrame({"x": [TL_AVG_ARROW[1]], "v": [TL_AVG_ARROW[2]]})
        layers += [
            alt.Chart(lb).mark_rect(fill="white", stroke="black", strokeWidth=2).encode(
                x=px("x"), x2="x2", y=py("v"), y2="v2"),
            alt.Chart(sym_m).mark_point(shape="triangle-up", filled=False, color="#1f4a80",
                                        strokeWidth=2, size=200, opacity=1).encode(x=px("x"), y=py("v")),
            alt.Chart(sym_t).mark_point(shape="circle", filled=True, color="#ff0000",
                                        size=120, opacity=1).encode(x=px("x"), y=py("v")),
            alt.Chart(ltxt).mark_text(font=CAL, fontSize=16, align="left", baseline="middle",
                                      color="black").encode(x=px("x"), y=py("v"), text="t:N"),
            alt.Chart(avg_t).mark_text(font=CJK, fontSize=11, align="left", baseline="middle",
                                       color="#ff0000").encode(x=px("x"), y=py("v"), text="t:N"),
            alt.Chart(avg_a).mark_rule(color="#ff0000", strokeWidth=2.5).encode(
                x=px("x"), x2="x2", y=py("v")),
            alt.Chart(avg_h).mark_point(shape="M-1,-1.2L1,0L-1,1.2", filled=False, color="#ff0000",
                                        strokeWidth=2.5, size=324, opacity=1, xOffset=-9).encode(
                x=px("x"), y=py("v")),
        ]
    return alt.layer(*layers).properties(width=W_R, height=H_R)


right = alt.VConcatChart(vconcat=[make_panel(i) for i in range(7)], spacing=SP_R, bounds="flush")

chart = alt.HConcatChart(hconcat=[left, right], spacing=49, bounds="flush").properties(
    padding={"left": 11, "top": 8, "right": 0, "bottom": 0}
).configure_view(stroke=None).configure(font=ARIAL, background="white")

chart.save("out.html", embed_options={"renderer": "svg", "actions": False})
